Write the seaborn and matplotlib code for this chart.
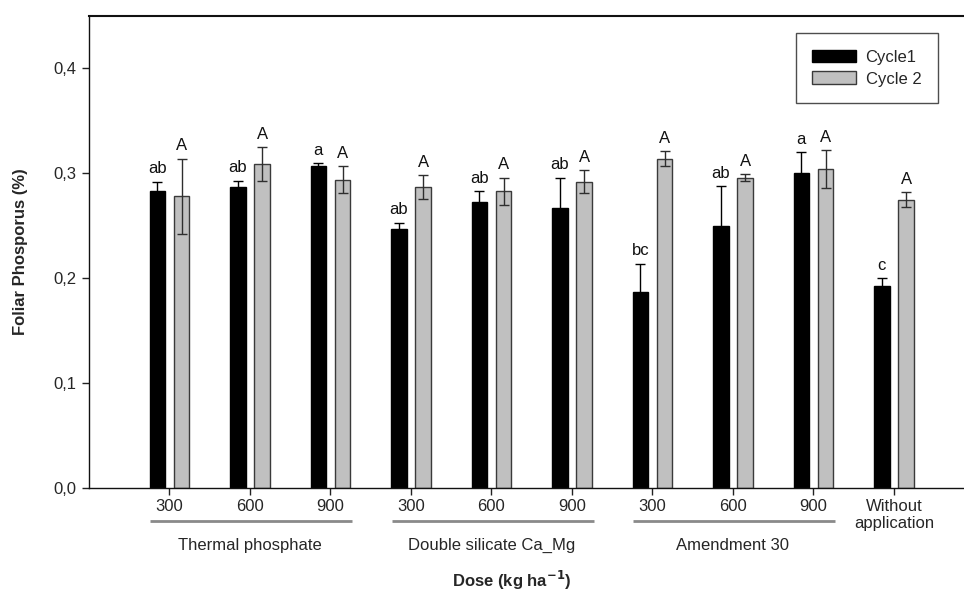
import numpy as np
import pandas as pd
import matplotlib
matplotlib.use("Agg")
import matplotlib.pyplot as plt
import matplotlib.transforms as mtransforms
from matplotlib.patches import Patch
from matplotlib.container import BarContainer
import seaborn as sns

# ---------------- data ----------------
categories = ["TP 300", "TP 600", "TP 900",
              "DS 300", "DS 600", "DS 900",
              "A30 300", "A30 600", "A30 900",
              "Without"]
tick_labels = ["300", "600", "900", "300", "600", "900",
               "300", "600", "900", "Without\napplication"]
cycle1 = [0.283, 0.287, 0.307, 0.247, 0.273, 0.267, 0.187, 0.250, 0.300, 0.193]
cycle1_err = [0.009, 0.006, 0.003, 0.006, 0.010, 0.029, 0.027, 0.038, 0.020, 0.007]
cycle2 = [0.278, 0.309, 0.294, 0.287, 0.283, 0.292, 0.314, 0.296, 0.304, 0.275]
cycle2_err = [0.036, 0.016, 0.013, 0.011, 0.013, 0.011, 0.007, 0.003, 0.018, 0.007]
letters1 = ["ab", "ab", "a", "ab", "ab", "ab", "bc", "ab", "a", "c"]
letters2 = ["A"] * 10
series_names = ["Cycle1", "Cycle 2"]
groups = ["Thermal phosphate", "Double silicate Ca_Mg", "Amendment 30"]
group_members = [[0, 1, 2], [3, 4, 5], [6, 7, 8]]
yticks = [0.0, 0.1, 0.2, 0.3, 0.4]
ytick_labels = ["0,0", "0,1", "0,2", "0,3", "0,4"]

df = pd.DataFrame({
    "category": categories * 2,
    "cycle": [series_names[0]] * len(categories) + [series_names[1]] * len(categories),
    "value": cycle1 + cycle2,
})

# ---------------- style ----------------
sns.set_style("ticks")
plt.rcParams["font.family"] = ["Liberation Sans", "DejaVu Sans"]
plt.rcParams["axes.linewidth"] = 1.0
FS = 12

fig = plt.figure(figsize=(9.64, 5.92), dpi=100)
ax = fig.add_axes([89 / 964, 1 - 488 / 592, (964 - 89) / 964, 472 / 592])

colors = {"Cycle1": "#000000", "Cycle 2": "#c0c0c0"}
sns.barplot(data=df, x="category", y="value", hue="cycle", order=categories,
            hue_order=series_names, palette=colors, width=0.6, gap=0.37,
            errorbar=None, ax=ax, legend=False, saturation=1)

edgecols = ["#000000", "#3a3a3a"]
errcols = ["#000000", "#2e2e2e"]
errs = [cycle1_err, cycle2_err]
lets = [letters1, letters2]
bar_conts = [c for c in ax.containers if isinstance(c, BarContainer)]
for i, cont in enumerate(bar_conts):
    xs, hs = [], []
    for p in cont.patches:
        p.set_edgecolor(edgecols[i])
        p.set_linewidth(1.0)
        xs.append(p.get_x() + p.get_width() / 2)
        hs.append(p.get_height())
    ax.errorbar(xs, hs, yerr=errs[i], fmt="none", ecolor=errcols[i],
                elinewidth=1.0, capsize=3.3, capthick=1.0, zorder=5)
    for x, h, e, t in zip(xs, hs, errs[i], lets[i]):
        ax.annotate(t, (x, h + e), xytext=(0, 6), textcoords="offset points",
                    ha="center", va="baseline", fontsize=FS, color="#111111")

ax.set_xlim(-1.0, 9.87)
ax.set_ylim(0, 0.45)
ax.set_yticks(yticks)
ax.set_yticklabels(ytick_labels, fontsize=FS)
ax.set_xticks(range(len(categories)))
ax.set_xticklabels(tick_labels, fontsize=FS, linespacing=1.15)
ax.tick_params(axis="both", direction="out", length=5, width=1.0, color="#222222")
ax.tick_params(axis="y", pad=4)
ax.tick_params(axis="x", pad=3)
ax.spines["right"].set_visible(False)
for s in ["left", "bottom", "top"]:
    ax.spines[s].set_color("#111111")
ax.spines["top"].set_linewidth(1.5)

ax.set_xlabel("")
ax.set_ylabel("Foliar Phosporus (%)", fontsize=FS, fontweight="bold", labelpad=18)

# group brackets and labels
trans = mtransforms.blended_transform_factory(ax.transData, ax.transAxes)
for name, mem in zip(groups, group_members):
    x0, x1 = mem[0] - 0.24, mem[-1] + 0.27
    ax.plot([x0, x1], [-0.070, -0.070], transform=trans, color="#8a8a8a",
            lw=2.0, clip_on=False, solid_capstyle="butt")
    ax.text((mem[0] + mem[-1]) / 2, -0.121, name, transform=trans,
            ha="center", va="center", fontsize=FS)

fig.text(512 / 964, 1 - 580 / 592, "Dose (kg ha$^{\\mathbf{-1}}$)", ha="center",
         va="center", fontsize=FS, fontweight="bold")

handles = [Patch(facecolor=colors[n], edgecolor=edgecols[k], linewidth=1.0)
           for k, n in enumerate(series_names)]
leg = ax.legend(handles, series_names, loc="upper right",
                bbox_to_anchor=(938 / 964, 1 - 33 / 592),
                bbox_transform=fig.transFigure, frameon=True, fancybox=False,
                edgecolor="#222222", fontsize=FS, handlelength=2.6,
                handleheight=0.8, borderpad=1.0, labelspacing=0.4,
                handletextpad=0.6, borderaxespad=0)
leg.get_frame().set_linewidth(1.0)

fig.savefig("out.png", dpi=100, facecolor="white")
